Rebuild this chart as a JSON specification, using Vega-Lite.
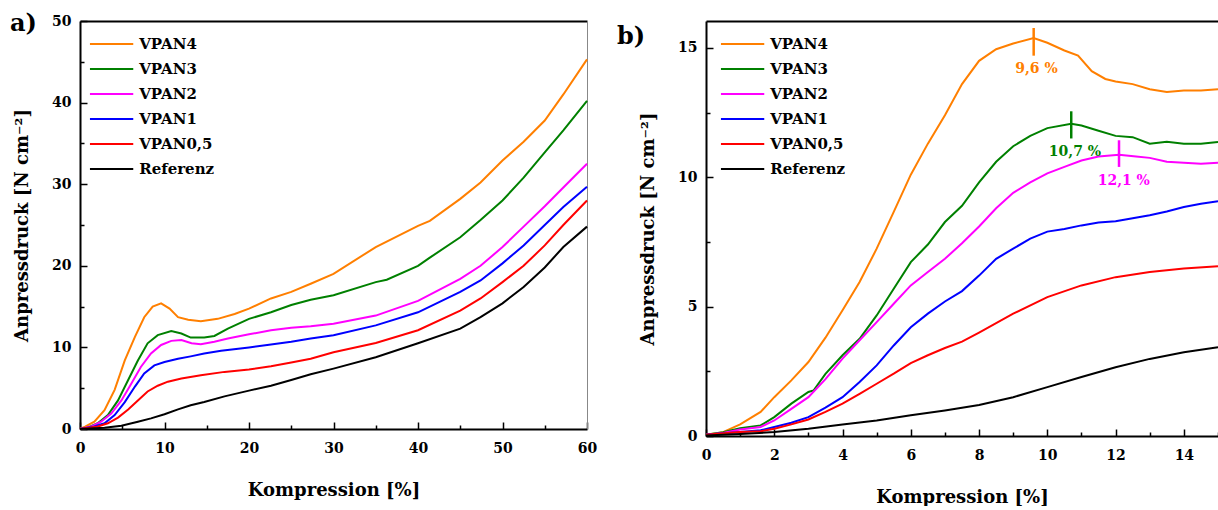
{
  "$schema": "https://vega.github.io/schema/vega-lite/v6.json",
  "padding": {"left": 10, "top": 12, "right": 0, "bottom": 0},
  "autosize": {"type": "pad"},
  "bounds": "flush",
  "spacing": 119,
  "background": "white",
  "config": {
    "view": {"stroke": null},
    "font": "DejaVu Serif",
    "axis": {"labelFont": "DejaVu Serif", "labelFontSize": 14, "labelFontWeight": "bold", "labelColor": "#000", "labelFlush": false,
      "titleFont": "DejaVu Serif", "titleFontSize": 18, "titleFontWeight": "bold", "titleColor": "#000",
      "domainColor": "#000", "domainWidth": 2, "tickColor": "#000", "tickWidth": 1.5, "grid": false},
    "legend": {"labelFont": "DejaVu Serif", "labelFontSize": 15, "labelFontWeight": "bold", "labelColor": "#000", "padding": 0,
      "symbolType": "M-2.5,0H2.5", "symbolSize": 300, "symbolStrokeWidth": 2, "labelOffset": 17.6, "rowPadding": 7, "orient": "none"},
    "title": {"font": "DejaVu Serif", "fontSize": 24, "fontWeight": "bold", "color": "#000"}
  },
  "resolve": {"legend": {"color": "independent"}},
  "datasets": {
    "a": [
      {"s":"VPAN4","x":0,"y":0},{"s":"VPAN4","x":0.6,"y":0.3},{"s":"VPAN4","x":1.7,"y":0.9},{"s":"VPAN4","x":2.9,"y":2.3},{"s":"VPAN4","x":4.1,"y":4.8},{"s":"VPAN4","x":5.3,"y":8.4},{"s":"VPAN4","x":6.5,"y":11.3},{"s":"VPAN4","x":7.6,"y":13.7},{"s":"VPAN4","x":8.6,"y":15.0},{"s":"VPAN4","x":9.6,"y":15.4},{"s":"VPAN4","x":10.6,"y":14.75},{"s":"VPAN4","x":11.6,"y":13.7},{"s":"VPAN4","x":12.8,"y":13.4},{"s":"VPAN4","x":14.3,"y":13.2},{"s":"VPAN4","x":16.3,"y":13.5},{"s":"VPAN4","x":18.3,"y":14.1},{"s":"VPAN4","x":20,"y":14.75},{"s":"VPAN4","x":22.6,"y":16.0},{"s":"VPAN4","x":25,"y":16.8},{"s":"VPAN4","x":27.3,"y":17.8},{"s":"VPAN4","x":30,"y":19.0},{"s":"VPAN4","x":35,"y":22.3},{"s":"VPAN4","x":40,"y":24.9},{"s":"VPAN4","x":41.4,"y":25.5},{"s":"VPAN4","x":45,"y":28.2},{"s":"VPAN4","x":47.4,"y":30.2},{"s":"VPAN4","x":50,"y":32.9},{"s":"VPAN4","x":52.5,"y":35.2},{"s":"VPAN4","x":55,"y":37.8},{"s":"VPAN4","x":57.2,"y":41.0},{"s":"VPAN4","x":60,"y":45.3},
      {"s":"VPAN3","x":0,"y":0},{"s":"VPAN3","x":0.9,"y":0.16},{"s":"VPAN3","x":2.1,"y":0.7},{"s":"VPAN3","x":3.3,"y":1.7},{"s":"VPAN3","x":4.5,"y":3.5},{"s":"VPAN3","x":5.7,"y":6.0},{"s":"VPAN3","x":6.85,"y":8.4},{"s":"VPAN3","x":8,"y":10.5},{"s":"VPAN3","x":9.2,"y":11.5},{"s":"VPAN3","x":10.8,"y":12.0},{"s":"VPAN3","x":12,"y":11.7},{"s":"VPAN3","x":13.1,"y":11.2},{"s":"VPAN3","x":14.7,"y":11.2},{"s":"VPAN3","x":15.9,"y":11.4},{"s":"VPAN3","x":17.5,"y":12.3},{"s":"VPAN3","x":20,"y":13.5},{"s":"VPAN3","x":22.6,"y":14.3},{"s":"VPAN3","x":25,"y":15.2},{"s":"VPAN3","x":27.3,"y":15.85},{"s":"VPAN3","x":30,"y":16.4},{"s":"VPAN3","x":35,"y":18.0},{"s":"VPAN3","x":36.3,"y":18.3},{"s":"VPAN3","x":40,"y":20.0},{"s":"VPAN3","x":41.4,"y":21.0},{"s":"VPAN3","x":45,"y":23.5},{"s":"VPAN3","x":47.4,"y":25.6},{"s":"VPAN3","x":50,"y":28.0},{"s":"VPAN3","x":52.5,"y":30.8},{"s":"VPAN3","x":55,"y":33.9},{"s":"VPAN3","x":57.2,"y":36.6},{"s":"VPAN3","x":60,"y":40.2},
      {"s":"VPAN2","x":0,"y":0},{"s":"VPAN2","x":1.3,"y":0.3},{"s":"VPAN2","x":2.5,"y":0.9},{"s":"VPAN2","x":3.7,"y":1.9},{"s":"VPAN2","x":4.9,"y":3.5},{"s":"VPAN2","x":6.1,"y":5.6},{"s":"VPAN2","x":7.2,"y":7.6},{"s":"VPAN2","x":8.4,"y":9.25},{"s":"VPAN2","x":9.6,"y":10.3},{"s":"VPAN2","x":10.8,"y":10.8},{"s":"VPAN2","x":12,"y":10.9},{"s":"VPAN2","x":13.2,"y":10.5},{"s":"VPAN2","x":14.3,"y":10.4},{"s":"VPAN2","x":15.9,"y":10.7},{"s":"VPAN2","x":17.5,"y":11.1},{"s":"VPAN2","x":20,"y":11.6},{"s":"VPAN2","x":22.6,"y":12.1},{"s":"VPAN2","x":25,"y":12.4},{"s":"VPAN2","x":27.3,"y":12.6},{"s":"VPAN2","x":30,"y":12.9},{"s":"VPAN2","x":35,"y":13.9},{"s":"VPAN2","x":40,"y":15.7},{"s":"VPAN2","x":45,"y":18.4},{"s":"VPAN2","x":47.4,"y":20.0},{"s":"VPAN2","x":50,"y":22.3},{"s":"VPAN2","x":52.5,"y":24.8},{"s":"VPAN2","x":55,"y":27.3},{"s":"VPAN2","x":57.2,"y":29.6},{"s":"VPAN2","x":60,"y":32.5},
      {"s":"VPAN1","x":0,"y":0},{"s":"VPAN1","x":1.7,"y":0.3},{"s":"VPAN1","x":2.9,"y":0.7},{"s":"VPAN1","x":4.1,"y":1.7},{"s":"VPAN1","x":5.3,"y":3.3},{"s":"VPAN1","x":6.5,"y":5.2},{"s":"VPAN1","x":7.6,"y":6.8},{"s":"VPAN1","x":8.8,"y":7.8},{"s":"VPAN1","x":10,"y":8.2},{"s":"VPAN1","x":11.6,"y":8.6},{"s":"VPAN1","x":13.1,"y":8.9},{"s":"VPAN1","x":14.7,"y":9.25},{"s":"VPAN1","x":16.7,"y":9.6},{"s":"VPAN1","x":20,"y":10.0},{"s":"VPAN1","x":22.6,"y":10.35},{"s":"VPAN1","x":25,"y":10.7},{"s":"VPAN1","x":27.3,"y":11.1},{"s":"VPAN1","x":30,"y":11.5},{"s":"VPAN1","x":35,"y":12.7},{"s":"VPAN1","x":40,"y":14.3},{"s":"VPAN1","x":45,"y":16.8},{"s":"VPAN1","x":47.4,"y":18.2},{"s":"VPAN1","x":50,"y":20.3},{"s":"VPAN1","x":52.5,"y":22.5},{"s":"VPAN1","x":55,"y":25.0},{"s":"VPAN1","x":57.2,"y":27.2},{"s":"VPAN1","x":60,"y":29.7},
      {"s":"VPAN0,5","x":0,"y":0},{"s":"VPAN0,5","x":2.1,"y":0.3},{"s":"VPAN0,5","x":3.3,"y":0.7},{"s":"VPAN0,5","x":4.5,"y":1.4},{"s":"VPAN0,5","x":5.7,"y":2.4},{"s":"VPAN0,5","x":6.85,"y":3.5},{"s":"VPAN0,5","x":8,"y":4.6},{"s":"VPAN0,5","x":9.2,"y":5.3},{"s":"VPAN0,5","x":10.4,"y":5.8},{"s":"VPAN0,5","x":12,"y":6.2},{"s":"VPAN0,5","x":14.3,"y":6.6},{"s":"VPAN0,5","x":17.1,"y":7.0},{"s":"VPAN0,5","x":20,"y":7.3},{"s":"VPAN0,5","x":22.6,"y":7.7},{"s":"VPAN0,5","x":25,"y":8.15},{"s":"VPAN0,5","x":27.3,"y":8.6},{"s":"VPAN0,5","x":30,"y":9.4},{"s":"VPAN0,5","x":35,"y":10.55},{"s":"VPAN0,5","x":40,"y":12.1},{"s":"VPAN0,5","x":45,"y":14.5},{"s":"VPAN0,5","x":47.4,"y":16.0},{"s":"VPAN0,5","x":50,"y":18.0},{"s":"VPAN0,5","x":52.5,"y":20.0},{"s":"VPAN0,5","x":55,"y":22.5},{"s":"VPAN0,5","x":57.2,"y":25.0},{"s":"VPAN0,5","x":60,"y":28.0},
      {"s":"Referenz","x":0,"y":0},{"s":"Referenz","x":2.9,"y":0.16},{"s":"Referenz","x":4.9,"y":0.4},{"s":"Referenz","x":6.85,"y":0.9},{"s":"Referenz","x":8.4,"y":1.3},{"s":"Referenz","x":10,"y":1.8},{"s":"Referenz","x":11.6,"y":2.4},{"s":"Referenz","x":13.1,"y":2.9},{"s":"Referenz","x":14.7,"y":3.3},{"s":"Referenz","x":17.1,"y":4.0},{"s":"Referenz","x":20,"y":4.7},{"s":"Referenz","x":22.6,"y":5.3},{"s":"Referenz","x":25,"y":6.0},{"s":"Referenz","x":27.3,"y":6.7},{"s":"Referenz","x":30,"y":7.4},{"s":"Referenz","x":35,"y":8.8},{"s":"Referenz","x":40,"y":10.5},{"s":"Referenz","x":45,"y":12.3},{"s":"Referenz","x":47.4,"y":13.7},{"s":"Referenz","x":50,"y":15.4},{"s":"Referenz","x":52.5,"y":17.4},{"s":"Referenz","x":55,"y":19.8},{"s":"Referenz","x":57.2,"y":22.3},{"s":"Referenz","x":60,"y":24.8}
    ],
    "b": [
      {"s":"VPAN4","x":0,"y":0.05},{"s":"VPAN4","x":0.5,"y":0.15},{"s":"VPAN4","x":1,"y":0.45},{"s":"VPAN4","x":1.6,"y":0.93},{"s":"VPAN4","x":2,"y":1.5},{"s":"VPAN4","x":2.5,"y":2.15},{"s":"VPAN4","x":3,"y":2.86},{"s":"VPAN4","x":3.5,"y":3.8},{"s":"VPAN4","x":4,"y":4.86},{"s":"VPAN4","x":4.5,"y":5.95},{"s":"VPAN4","x":5,"y":7.24},{"s":"VPAN4","x":5.5,"y":8.66},{"s":"VPAN4","x":6,"y":10.1},{"s":"VPAN4","x":6.5,"y":11.3},{"s":"VPAN4","x":7,"y":12.4},{"s":"VPAN4","x":7.5,"y":13.6},{"s":"VPAN4","x":8,"y":14.5},{"s":"VPAN4","x":8.5,"y":14.95},{"s":"VPAN4","x":9,"y":15.17},{"s":"VPAN4","x":9.6,"y":15.38},{"s":"VPAN4","x":10,"y":15.2},{"s":"VPAN4","x":10.5,"y":14.9},{"s":"VPAN4","x":10.9,"y":14.7},{"s":"VPAN4","x":11.3,"y":14.1},{"s":"VPAN4","x":11.7,"y":13.8},{"s":"VPAN4","x":12,"y":13.7},{"s":"VPAN4","x":12.5,"y":13.6},{"s":"VPAN4","x":13,"y":13.4},{"s":"VPAN4","x":13.5,"y":13.3},{"s":"VPAN4","x":14,"y":13.35},{"s":"VPAN4","x":14.5,"y":13.35},{"s":"VPAN4","x":15,"y":13.4},
      {"s":"VPAN3","x":0,"y":0.05},{"s":"VPAN3","x":0.5,"y":0.15},{"s":"VPAN3","x":1,"y":0.3},{"s":"VPAN3","x":1.6,"y":0.41},{"s":"VPAN3","x":2,"y":0.73},{"s":"VPAN3","x":2.5,"y":1.25},{"s":"VPAN3","x":3,"y":1.7},{"s":"VPAN3","x":3.15,"y":1.76},{"s":"VPAN3","x":3.5,"y":2.4},{"s":"VPAN3","x":4,"y":3.12},{"s":"VPAN3","x":4.5,"y":3.76},{"s":"VPAN3","x":5,"y":4.66},{"s":"VPAN3","x":5.5,"y":5.69},{"s":"VPAN3","x":6,"y":6.72},{"s":"VPAN3","x":6.5,"y":7.4},{"s":"VPAN3","x":7,"y":8.27},{"s":"VPAN3","x":7.5,"y":8.9},{"s":"VPAN3","x":8,"y":9.8},{"s":"VPAN3","x":8.5,"y":10.6},{"s":"VPAN3","x":9,"y":11.2},{"s":"VPAN3","x":9.5,"y":11.6},{"s":"VPAN3","x":10,"y":11.9},{"s":"VPAN3","x":10.7,"y":12.07},{"s":"VPAN3","x":11,"y":12.0},{"s":"VPAN3","x":11.5,"y":11.8},{"s":"VPAN3","x":12,"y":11.6},{"s":"VPAN3","x":12.5,"y":11.55},{"s":"VPAN3","x":13,"y":11.3},{"s":"VPAN3","x":13.5,"y":11.37},{"s":"VPAN3","x":14,"y":11.3},{"s":"VPAN3","x":14.5,"y":11.3},{"s":"VPAN3","x":15,"y":11.36},
      {"s":"VPAN2","x":0,"y":0.05},{"s":"VPAN2","x":0.5,"y":0.12},{"s":"VPAN2","x":1,"y":0.25},{"s":"VPAN2","x":1.6,"y":0.35},{"s":"VPAN2","x":2,"y":0.6},{"s":"VPAN2","x":2.5,"y":1.05},{"s":"VPAN2","x":3,"y":1.5},{"s":"VPAN2","x":3.5,"y":2.2},{"s":"VPAN2","x":4,"y":2.99},{"s":"VPAN2","x":4.5,"y":3.7},{"s":"VPAN2","x":5,"y":4.4},{"s":"VPAN2","x":5.5,"y":5.11},{"s":"VPAN2","x":6,"y":5.82},{"s":"VPAN2","x":6.5,"y":6.34},{"s":"VPAN2","x":7,"y":6.85},{"s":"VPAN2","x":7.5,"y":7.45},{"s":"VPAN2","x":8,"y":8.1},{"s":"VPAN2","x":8.5,"y":8.8},{"s":"VPAN2","x":9,"y":9.4},{"s":"VPAN2","x":9.5,"y":9.8},{"s":"VPAN2","x":10,"y":10.15},{"s":"VPAN2","x":10.5,"y":10.4},{"s":"VPAN2","x":11,"y":10.65},{"s":"VPAN2","x":11.5,"y":10.8},{"s":"VPAN2","x":12.1,"y":10.87},{"s":"VPAN2","x":12.6,"y":10.8},{"s":"VPAN2","x":13,"y":10.75},{"s":"VPAN2","x":13.5,"y":10.6},{"s":"VPAN2","x":14,"y":10.56},{"s":"VPAN2","x":14.5,"y":10.52},{"s":"VPAN2","x":15,"y":10.56},
      {"s":"VPAN1","x":0,"y":0.05},{"s":"VPAN1","x":1,"y":0.15},{"s":"VPAN1","x":1.6,"y":0.22},{"s":"VPAN1","x":2,"y":0.35},{"s":"VPAN1","x":2.5,"y":0.51},{"s":"VPAN1","x":3,"y":0.73},{"s":"VPAN1","x":3.5,"y":1.1},{"s":"VPAN1","x":4,"y":1.5},{"s":"VPAN1","x":4.5,"y":2.09},{"s":"VPAN1","x":5,"y":2.73},{"s":"VPAN1","x":5.5,"y":3.5},{"s":"VPAN1","x":6,"y":4.2},{"s":"VPAN1","x":6.5,"y":4.73},{"s":"VPAN1","x":7,"y":5.2},{"s":"VPAN1","x":7.5,"y":5.6},{"s":"VPAN1","x":8,"y":6.2},{"s":"VPAN1","x":8.5,"y":6.85},{"s":"VPAN1","x":9,"y":7.24},{"s":"VPAN1","x":9.5,"y":7.63},{"s":"VPAN1","x":10,"y":7.9},{"s":"VPAN1","x":10.5,"y":8.0},{"s":"VPAN1","x":11,"y":8.14},{"s":"VPAN1","x":11.5,"y":8.25},{"s":"VPAN1","x":12,"y":8.3},{"s":"VPAN1","x":12.5,"y":8.42},{"s":"VPAN1","x":13,"y":8.53},{"s":"VPAN1","x":13.5,"y":8.68},{"s":"VPAN1","x":14,"y":8.85},{"s":"VPAN1","x":14.5,"y":8.98},{"s":"VPAN1","x":15,"y":9.07},
      {"s":"VPAN0,5","x":0,"y":0.05},{"s":"VPAN0,5","x":1,"y":0.15},{"s":"VPAN0,5","x":1.6,"y":0.18},{"s":"VPAN0,5","x":2,"y":0.28},{"s":"VPAN0,5","x":2.5,"y":0.45},{"s":"VPAN0,5","x":3,"y":0.64},{"s":"VPAN0,5","x":3.5,"y":0.93},{"s":"VPAN0,5","x":4,"y":1.25},{"s":"VPAN0,5","x":4.5,"y":1.63},{"s":"VPAN0,5","x":5,"y":2.02},{"s":"VPAN0,5","x":5.5,"y":2.41},{"s":"VPAN0,5","x":6,"y":2.82},{"s":"VPAN0,5","x":6.5,"y":3.12},{"s":"VPAN0,5","x":7,"y":3.4},{"s":"VPAN0,5","x":7.5,"y":3.65},{"s":"VPAN0,5","x":8,"y":4.0},{"s":"VPAN0,5","x":9,"y":4.73},{"s":"VPAN0,5","x":10,"y":5.37},{"s":"VPAN0,5","x":11,"y":5.82},{"s":"VPAN0,5","x":12,"y":6.14},{"s":"VPAN0,5","x":13,"y":6.34},{"s":"VPAN0,5","x":14,"y":6.47},{"s":"VPAN0,5","x":15,"y":6.56},
      {"s":"Referenz","x":0,"y":0.02},{"s":"Referenz","x":1,"y":0.08},{"s":"Referenz","x":2,"y":0.15},{"s":"Referenz","x":3,"y":0.28},{"s":"Referenz","x":4,"y":0.44},{"s":"Referenz","x":5,"y":0.6},{"s":"Referenz","x":6,"y":0.8},{"s":"Referenz","x":7,"y":0.99},{"s":"Referenz","x":8,"y":1.2},{"s":"Referenz","x":9,"y":1.5},{"s":"Referenz","x":10,"y":1.89},{"s":"Referenz","x":11,"y":2.28},{"s":"Referenz","x":12,"y":2.66},{"s":"Referenz","x":13,"y":2.98},{"s":"Referenz","x":14,"y":3.24},{"s":"Referenz","x":15,"y":3.43}
    ],
    "peaks": [
      {"s":"VPAN4","x":9.6,"y":14.7,"y2":15.77,"tx":9.68,"ty":14.2,"label":"9,6 %"},
      {"s":"VPAN3","x":10.7,"y":11.5,"y2":12.55,"tx":10.81,"ty":10.97,"label":"10,7 %"},
      {"s":"VPAN2","x":12.1,"y":10.4,"y2":11.43,"tx":12.24,"ty":9.85,"label":"12,1 %"}
    ]
  },
  "hconcat": [
    {
      "width": 507,
      "height": 408,
      "title": {"text": "a)", "anchor": "start", "frame": "group", "orient": "top", "offset": 0, "dx": -70, "dy": 34, "baseline": "middle"},
      "data": {"name": "a"},
      "layer": [
        {
          "mark": {"type": "line", "strokeWidth": 2},
          "encoding": {
            "x": {"field": "x", "type": "quantitative", "scale": {"domain": [0, 60], "nice": false},
              "axis": {"orient": "bottom", "title": "Kompression [%]", "values": [0,10,20,30,40,50,60], "ticks": false, "tickSize": 0, "labelPadding": 12, "titlePadding": 26}},
            "y": {"field": "y", "type": "quantitative", "scale": {"domain": [0, 50], "nice": false},
              "axis": {"orient": "left", "title": "Anpressdruck [N cm⁻²]", "values": [0,10,20,30,40,50], "ticks": false, "tickSize": 0, "labelPadding": 9, "titlePadding": 20}},
            "color": {"field": "s", "type": "nominal",
              "scale": {"domain": ["VPAN4","VPAN3","VPAN2","VPAN1","VPAN0,5","Referenz"], "range": ["#FF7F00","#008000","#FF00FF","#0000FF","#FF0000","#000000"]},
              "legend": {"title": null, "legendX": 21.6, "legendY": 13}}
          }
        },
        {
          "mark": {"type": "line", "opacity": 0},
          "encoding": {
            "x": {"field": "x", "type": "quantitative", "axis": {"orient": "bottom", "title": null, "labels": false, "domain": false, "values": [0,10,20,30,40,50,60], "offset": -7, "tickSize": 7}},
            "y": {"field": "y", "type": "quantitative", "axis": {"orient": "left", "title": null, "labels": false, "domain": false, "values": [0,10,20,30,40,50], "offset": -7, "tickSize": 7}},
            "detail": {"field": "s"}
          }
        },
        {
          "mark": {"type": "line", "opacity": 0},
          "encoding": {
            "x": {"field": "x", "type": "quantitative", "axis": {"orient": "bottom", "title": null, "labels": false, "domain": false, "values": [5,15,25,35,45,55], "offset": -4, "tickSize": 4}},
            "y": {"field": "y", "type": "quantitative", "axis": {"orient": "left", "title": null, "labels": false, "domain": false, "values": [5,15,25,35,45], "offset": -4, "tickSize": 4}},
            "detail": {"field": "s"}
          }
        },
        {
          "mark": {"type": "line", "opacity": 0},
          "encoding": {
            "x": {"field": "x", "type": "quantitative", "axis": {"orient": "top", "title": null, "labels": false, "ticks": false, "domainWidth": 2}},
            "y": {"field": "y", "type": "quantitative", "axis": {"orient": "right", "title": null, "labels": false, "ticks": false, "domainColor": "#888", "domainWidth": 1}},
            "detail": {"field": "s"}
          }
        }
      ],
      "resolve": {"axis": {"x": "independent", "y": "independent"}}
    },
    {
      "width": 512,
      "height": 415,
      "title": {"text": "b)", "anchor": "start", "frame": "group", "orient": "top", "offset": 0, "dx": -89, "dy": 40, "baseline": "middle"},
      "layer": [
        {
          "data": {"name": "b"},
          "mark": {"type": "line", "strokeWidth": 2},
          "encoding": {
            "x": {"field": "x", "type": "quantitative", "scale": {"domain": [0, 15], "nice": false},
              "axis": {"orient": "bottom", "title": "Kompression [%]", "values": [0,2,4,6,8,10,12,14], "ticks": false, "tickSize": 0, "labelPadding": 12, "titlePadding": 26}},
            "y": {"field": "y", "type": "quantitative", "scale": {"domain": [0, 16.04], "nice": false},
              "axis": {"orient": "left", "title": "Anpressdruck [N cm⁻²]", "values": [0,5,10,15], "ticks": false, "tickSize": 0, "labelPadding": 9, "titlePadding": 20}},
            "color": {"field": "s", "type": "nominal",
              "scale": {"domain": ["VPAN4","VPAN3","VPAN2","VPAN1","VPAN0,5","Referenz"], "range": ["#FF7F00","#008000","#FF00FF","#0000FF","#FF0000","#000000"]},
              "legend": {"title": null, "legendX": 26.6, "legendY": 13}}
          }
        },
        {
          "data": {"name": "peaks"},
          "mark": {"type": "rule", "strokeWidth": 2.5},
          "encoding": {
            "x": {"field": "x", "type": "quantitative", "axis": null},
            "y": {"field": "y", "type": "quantitative", "axis": null},
            "y2": {"field": "y2"},
            "color": {"field": "s", "type": "nominal", "legend": null}
          }
        },
        {
          "data": {"name": "peaks"},
          "mark": {"type": "text", "font": "DejaVu Serif", "fontSize": 14, "fontWeight": "bold", "align": "center", "baseline": "middle"},
          "encoding": {
            "x": {"field": "tx", "type": "quantitative", "axis": null},
            "y": {"field": "ty", "type": "quantitative", "axis": null},
            "text": {"field": "label"},
            "color": {"field": "s", "type": "nominal", "legend": null}
          }
        },
        {
          "data": {"name": "b"},
          "mark": {"type": "line", "opacity": 0},
          "encoding": {
            "x": {"field": "x", "type": "quantitative", "axis": {"orient": "bottom", "title": null, "labels": false, "domain": false, "values": [0,2,4,6,8,10,12,14], "offset": -7, "tickSize": 7}},
            "y": {"field": "y", "type": "quantitative", "axis": {"orient": "left", "title": null, "labels": false, "domain": false, "values": [0,5,10,15], "offset": -7, "tickSize": 7}},
            "detail": {"field": "s"}
          }
        },
        {
          "data": {"name": "b"},
          "mark": {"type": "line", "opacity": 0},
          "encoding": {
            "x": {"field": "x", "type": "quantitative", "axis": {"orient": "bottom", "title": null, "labels": false, "domain": false, "values": [1,3,5,7,9,11,13,15], "offset": -4, "tickSize": 4}},
            "y": {"field": "y", "type": "quantitative", "axis": {"orient": "left", "title": null, "labels": false, "domain": false, "values": [2.5,7.5,12.5], "offset": -4, "tickSize": 4}},
            "detail": {"field": "s"}
          }
        },
        {
          "data": {"name": "b"},
          "mark": {"type": "line", "opacity": 0},
          "encoding": {
            "x": {"field": "x", "type": "quantitative", "axis": {"orient": "top", "title": null, "labels": false, "ticks": false, "domainWidth": 2}},
            "y": {"field": "y", "type": "quantitative", "axis": {"orient": "right", "title": null, "labels": false, "ticks": false, "domainColor": "#888", "domainWidth": 1}},
            "detail": {"field": "s"}
          }
        }
      ],
      "resolve": {"axis": {"x": "independent", "y": "independent"}}
    }
  ]
}
